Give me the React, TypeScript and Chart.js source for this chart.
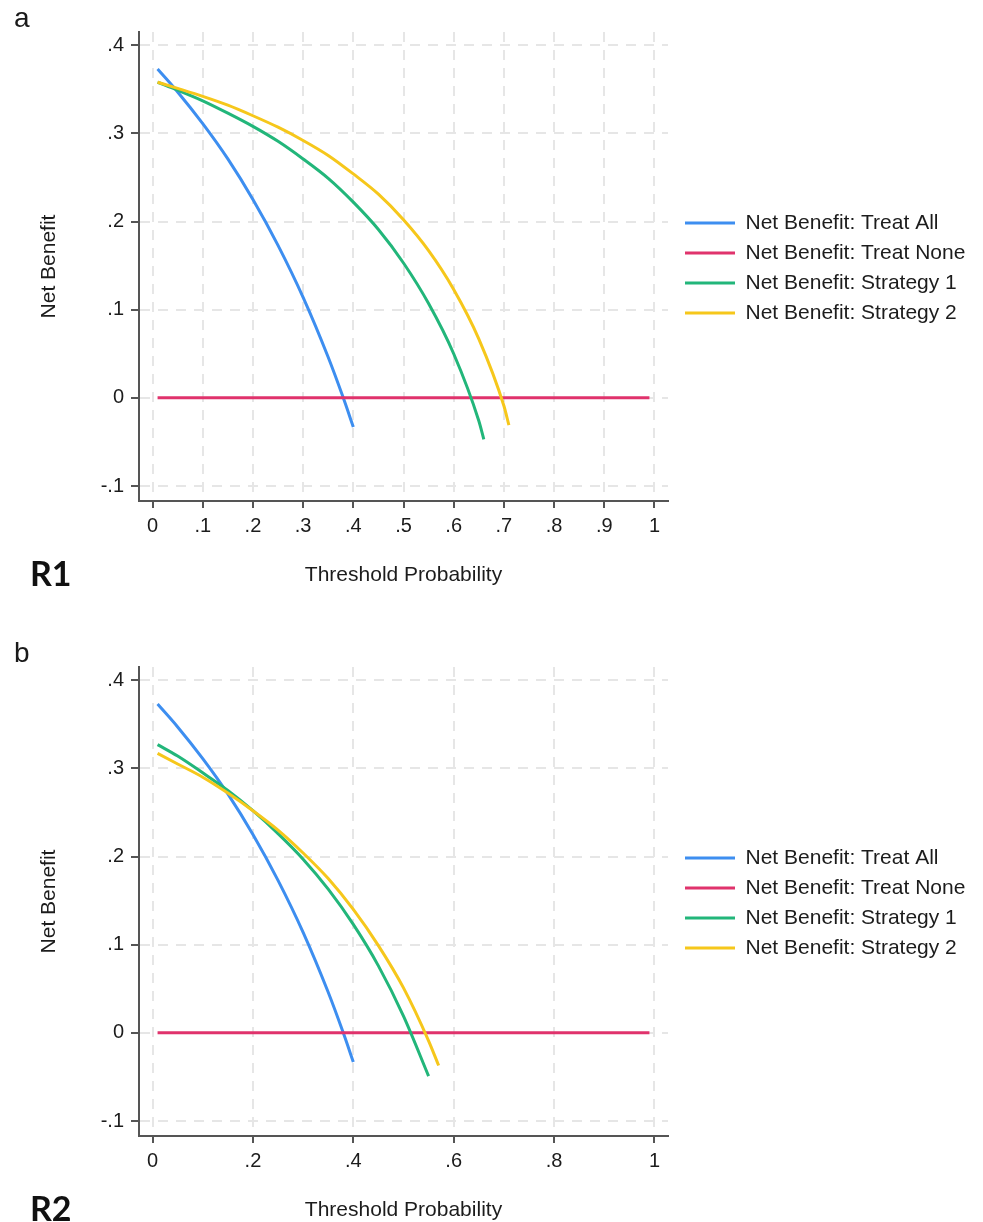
import React, { useEffect, useRef } from 'react';
import { Chart, registerables } from 'chart.js';

Chart.register(...registerables);

// ---------- data ----------
const seriesNames = [
  'Net Benefit: Treat All',
  'Net Benefit: Treat None',
  'Net Benefit: Strategy 1',
  'Net Benefit: Strategy 2',
];
const seriesColors = ['#3D8EF0', '#E0336C', '#22B67A', '#F6C71B'];

const treatAllPt = [0.01, 0.05, 0.1, 0.15, 0.2, 0.25, 0.3, 0.35, 0.38, 0.4];
const treatAllNb = [0.373, 0.347, 0.311, 0.271, 0.225, 0.173, 0.114, 0.046, 0.0, -0.033];

const treatNonePt = [0.01, 0.99];
const treatNoneNb = [0, 0];

const r1Strategy1Pt = [0.01, 0.05, 0.1, 0.15, 0.2, 0.25, 0.3, 0.35, 0.4, 0.45, 0.5, 0.55, 0.6, 0.65, 0.66];
const r1Strategy1Nb = [0.358, 0.349, 0.337, 0.323, 0.308, 0.291, 0.271, 0.249, 0.222, 0.191, 0.153, 0.107, 0.05, -0.026, -0.047];

const r1Strategy2Pt = [0.01, 0.05, 0.1, 0.15, 0.2, 0.25, 0.3, 0.35, 0.4, 0.45, 0.5, 0.55, 0.6, 0.65, 0.7, 0.71];
const r1Strategy2Nb = [0.358, 0.351, 0.342, 0.332, 0.32, 0.307, 0.292, 0.275, 0.254, 0.231, 0.202, 0.167, 0.123, 0.067, -0.009, -0.031];

const r2Strategy1Pt = [0.01, 0.05, 0.1, 0.15, 0.2, 0.25, 0.3, 0.35, 0.4, 0.45, 0.5, 0.55];
const r2Strategy1Nb = [0.327, 0.314, 0.295, 0.275, 0.252, 0.226, 0.197, 0.163, 0.123, 0.076, 0.019, -0.049];

const r2Strategy2Pt = [0.01, 0.05, 0.1, 0.15, 0.2, 0.25, 0.3, 0.35, 0.4, 0.45, 0.5, 0.55, 0.57];
const r2Strategy2Nb = [0.317, 0.305, 0.29, 0.272, 0.252, 0.23, 0.204, 0.175, 0.14, 0.099, 0.051, -0.009, -0.037];

const yTicks = [-0.1, 0, 0.1, 0.2, 0.3, 0.4];
const yTickLabels = ['-.1', '0', '.1', '.2', '.3', '.4'];

const r1XTicks = [0, 0.1, 0.2, 0.3, 0.4, 0.5, 0.6, 0.7, 0.8, 0.9, 1];
const r1XTickLabels = ['0', '.1', '.2', '.3', '.4', '.5', '.6', '.7', '.8', '.9', '1'];

const r2XTicks = [0, 0.2, 0.4, 0.6, 0.8, 1];
const r2XTickLabels = ['0', '.2', '.4', '.6', '.8', '1'];

// ---------- styling ----------
const FONT = '"Liberation Sans", Arial, Helvetica, sans-serif';
const TEXT = '#1c1c1c';
const AXIS = '#555555';
const GRID = '#e6e6e6';

const legendShift = {
  id: 'legendShift',
  afterLayout(chart: any) {
    const lg = chart.legend;
    if (lg) {
      lg.left += 8;
      lg.right = lg.left + 300;
      lg.top += 1.5;
      lg.bottom += 1.5;
    }
  },
};

function labelFor(ticks: number[], labels: string[], v: number) {
  const k = ticks.findIndex((t) => Math.abs(t - v) < 1e-9);
  return k >= 0 ? labels[k] : '';
}

type PanelProps = {
  top: number;
  letter: string;
  region: string;
  s1Pt: number[];
  s1Nb: number[];
  s2Pt: number[];
  s2Nb: number[];
  xTicks: number[];
  xTickLabels: string[];
};

function Panel(p: PanelProps) {
  const ref = useRef<HTMLCanvasElement>(null);

  useEffect(() => {
    if (!ref.current) return;
    const toPts = (xs: number[], ys: number[]) => xs.map((x, i) => ({ x, y: ys[i] }));
    const mk = (i: number, xs: number[], ys: number[]) => ({
      label: seriesNames[i],
      data: toPts(xs, ys),
      borderColor: seriesColors[i],
      backgroundColor: seriesColors[i],
      borderWidth: 3,
      pointRadius: 0,
      pointHoverRadius: 0,
      fill: false,
      cubicInterpolationMode: 'monotone' as const,
      order: 4 - i,
    });

    const chart = new Chart(ref.current, {
      type: 'line',
      data: {
        datasets: [
          mk(0, treatAllPt, treatAllNb),
          mk(1, treatNonePt, treatNoneNb),
          mk(2, p.s1Pt, p.s1Nb),
          mk(3, p.s2Pt, p.s2Nb),
        ],
      },
      options: {
        responsive: false,
        animation: false,
        events: [],
        layout: { padding: { top: 32, left: 0, right: 35, bottom: 0 } },
        scales: {
          x: {
            type: 'linear',
            min: -0.027,
            max: 1.027,
            afterBuildTicks: (s: any) => {
              s.ticks = p.xTicks.map((v) => ({ value: v }));
            },
            afterFit: (s: any) => {
              s.height = 99;
            },
            ticks: {
              callback: (v: any) => labelFor(p.xTicks, p.xTickLabels, Number(v)),
              font: { family: FONT, size: 20 },
              color: TEXT,
              padding: 6,
              maxRotation: 0,
              autoSkip: false,
            },
            grid: {
              color: GRID,
              lineWidth: 2,
              tickLength: 7,
              tickColor: AXIS,
              tickWidth: 2,
              tickBorderDash: [],
            },
            border: { color: AXIS, width: 2, dash: [10, 8] },
            title: {
              display: true,
              text: 'Threshold Probability',
              font: { family: FONT, size: 21 },
              color: TEXT,
              padding: { top: 0, bottom: 12 },
            },
          },
          y: {
            type: 'linear',
            min: -0.117,
            max: 0.415,
            afterBuildTicks: (s: any) => {
              s.ticks = yTicks.map((v) => ({ value: v }));
            },
            afterFit: (s: any) => {
              s.width = 139;
            },
            ticks: {
              callback: (v: any) => labelFor(yTicks, yTickLabels, Number(v)),
              font: { family: FONT, size: 20 },
              color: TEXT,
              padding: 7,
              autoSkip: false,
            },
            grid: {
              color: GRID,
              lineWidth: 2,
              tickLength: 8,
              tickColor: AXIS,
              tickWidth: 2,
              tickBorderDash: [],
            },
            border: { color: AXIS, width: 2, dash: [10, 8] },
            title: {
              display: true,
              text: 'Net Benefit',
              font: { family: FONT, size: 21 },
              color: TEXT,
              padding: { top: 37, bottom: 0 },
            },
          },
        },
        plugins: {
          tooltip: { enabled: false },
          legend: {
            position: 'right',
            align: 'center',
            fullSize: false,
            maxWidth: 280,
            labels: {
              usePointStyle: true,
              pointStyle: 'line',
              pointStyleWidth: 50,
              font: { family: FONT, size: 21 },
              color: TEXT,
              padding: 9,
              sort: (a: any, b: any) => a.datasetIndex - b.datasetIndex,
            },
          },
        },
      } as any,
      plugins: [legendShift],
    });
    return () => chart.destroy();
  }, []);

  return (
    <>
      <canvas
        ref={ref}
        width={983}
        height={600}
        style={{ position: 'absolute', left: 0, top: p.top, width: 983, height: 600 }}
      />
      <div
        style={{
          position: 'absolute',
          left: 14,
          top: p.top + 4,
          fontFamily: FONT,
          fontSize: 28,
          lineHeight: '28px',
          color: '#1a1a1a',
        }}
      >
        {p.letter}
      </div>
      <div
        style={{
          position: 'absolute',
          left: 30,
          top: p.top + 556,
          fontFamily: 'Lato, "Open Sans", sans-serif',
          fontWeight: 700,
          fontSize: 34,
          lineHeight: '34px',
          color: '#111111',
        }}
      >
        {p.region}
      </div>
    </>
  );
}

export default function App() {
  return (
    <div
      style={{
        position: 'absolute',
        left: 0,
        top: 0,
        width: 983,
        height: 1222,
        overflow: 'hidden',
        background: '#ffffff',
      }}
    >
      <Panel
        top={0}
        letter="a"
        region="R1"
        s1Pt={r1Strategy1Pt}
        s1Nb={r1Strategy1Nb}
        s2Pt={r1Strategy2Pt}
        s2Nb={r1Strategy2Nb}
        xTicks={r1XTicks}
        xTickLabels={r1XTickLabels}
      />
      <Panel
        top={635}
        letter="b"
        region="R2"
        s1Pt={r2Strategy1Pt}
        s1Nb={r2Strategy1Nb}
        s2Pt={r2Strategy2Pt}
        s2Nb={r2Strategy2Nb}
        xTicks={r2XTicks}
        xTickLabels={r2XTickLabels}
      />
    </div>
  );
}
